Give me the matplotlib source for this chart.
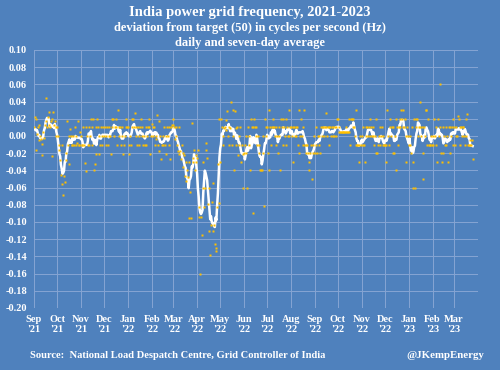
import matplotlib
matplotlib.use("Agg")
import matplotlib.pyplot as plt
import pandas as pd
import numpy as np

# ---------------- data (daily deviation from 50 Hz) ----------------
daily_sep21 = [0.010, 0.022, 0.020, -0.016, 0.002, 0.010, -0.005, 0.013, 0.000, -0.004,
               -0.009, -0.022, 0.005, -0.002, 0.013, 0.017, 0.044, 0.010, 0.022, 0.028,
               0.013, 0.010, 0.017, -0.023, 0.020, 0.028, 0.013, 0.017, 0.010, 0.000]
daily_oct21 = [0.010, 0.000, -0.016, -0.010, -0.028, -0.045, -0.056, -0.010, -0.069, -0.047,
               -0.053, -0.020, -0.028, 0.017, -0.010, 0.000, -0.033, 0.008, 0.000, -0.010,
               -0.010, 0.000, -0.010, 0.010, 0.000, -0.010, -0.008, 0.018, -0.010, -0.010, 0.005]
daily_nov21 = [0.000, -0.010, -0.010, 0.010, -0.010, -0.031, -0.041, 0.010, 0.000, -0.010,
               0.010, -0.010, 0.000, 0.020, 0.010, -0.010, 0.020, -0.040, -0.032, 0.010,
               -0.021, 0.020, 0.010, -0.021, 0.000, -0.010, 0.010, 0.000, -0.010, 0.010]
daily_dec21 = [0.000, 0.010, -0.010, 0.000, 0.010, -0.010, 0.000, 0.010, 0.000, -0.021,
               0.020, 0.010, 0.020, 0.000, 0.010, 0.020, 0.010, -0.010, 0.030, 0.010,
               0.000, 0.010, -0.010, 0.000, 0.010, -0.021, -0.010, 0.000, 0.010, 0.020, 0.010]
daily_jan22 = [0.010, -0.010, -0.021, 0.000, -0.010, 0.020, 0.010, 0.020, 0.010, 0.027,
               0.010, 0.000, -0.010, 0.010, 0.000, -0.010, 0.010, 0.020, 0.010, 0.000,
               -0.010, 0.000, -0.010, -0.010, 0.010, 0.000, 0.010, 0.020, 0.010, -0.021, 0.000]
daily_feb22 = [0.014, 0.010, 0.000, 0.010, -0.010, 0.000, -0.003, 0.024, -0.010, 0.017,
               -0.018, 0.000, -0.027, -0.010, 0.000, -0.010, 0.010, -0.010, 0.000, -0.021,
               0.010, 0.000, 0.010, -0.010, -0.027, 0.010, 0.013, 0.020]
daily_mar22 = [0.013, 0.010, -0.003, 0.000, 0.010, -0.010, -0.018, 0.010, -0.021, -0.018,
               -0.027, -0.010, -0.036, -0.020, -0.022, -0.047, -0.030, -0.052, -0.040, -0.048,
               -0.095, -0.030, -0.065, -0.095, 0.015, -0.030, -0.026, -0.016, -0.040, -0.030, -0.022]
daily_apr22 = [-0.026, -0.016, -0.094, -0.082, -0.160, -0.094, -0.115, -0.060, -0.030, -0.082,
               -0.060, -0.016, -0.008, -0.026, -0.079, -0.060, -0.111, -0.138, -0.103, -0.077,
               -0.110, -0.055, -0.103, -0.126, -0.134, -0.130, -0.083, -0.032, -0.078, 0.020]
daily_may22 = [-0.030, 0.020, 0.010, -0.011, 0.000, 0.009, 0.010, 0.007, 0.019, 0.029,
               0.000, -0.010, 0.010, 0.009, 0.040, -0.010, 0.000, 0.030, -0.040, 0.029,
               0.009, -0.010, 0.010, -0.022, 0.000, -0.011, 0.010, -0.030, -0.010, -0.021, -0.060]
daily_jun22 = [-0.020, -0.010, 0.000, -0.020, -0.060, 0.010, -0.010, 0.000, -0.040, 0.020,
               0.010, 0.010, -0.090, 0.020, 0.010, 0.010, 0.000, -0.010, 0.000, -0.020,
               -0.010, -0.040, -0.040, -0.040, -0.020, 0.000, -0.081, 0.020, 0.010, 0.000]
daily_jul22 = [0.010, -0.020, 0.030, -0.040, 0.010, -0.010, 0.010, 0.010, 0.020, 0.010,
               0.000, -0.010, 0.010, 0.000, -0.020, 0.010, 0.000, -0.040, 0.020, 0.010,
               0.020, -0.010, 0.010, 0.000, 0.020, -0.010, 0.010, 0.000, 0.000, 0.030, 0.010]
daily_aug22 = [0.010, 0.000, -0.030, 0.010, 0.010, 0.000, 0.010, 0.000, 0.010, -0.010,
               0.030, -0.020, 0.000, 0.020, 0.000, 0.010, -0.010, 0.030, -0.010, -0.020,
               -0.010, -0.010, -0.020, -0.030, -0.040, -0.020, -0.010, -0.050, -0.010, -0.020, 0.000]
daily_sep22 = [-0.020, -0.010, 0.010, -0.020, 0.000, -0.010, 0.000, -0.020, 0.010, 0.000,
               0.010, 0.010, 0.000, 0.010, 0.010, 0.027, 0.000, 0.010, -0.010, 0.010,
               0.010, 0.000, 0.010, 0.000, 0.010, 0.000, 0.010, 0.000, 0.010, 0.020]
daily_oct22 = [0.020, 0.010, 0.005, 0.005, 0.005, 0.005, 0.005, 0.005, 0.005, 0.005,
               0.005, 0.010, 0.005, 0.005, 0.020, 0.005, -0.010, 0.020, 0.020, 0.010,
               0.020, 0.010, 0.000, 0.030, -0.010, -0.010, -0.010, -0.030, -0.010, 0.000, -0.010]
daily_nov22 = [0.000, -0.010, 0.010, -0.010, -0.030, 0.010, 0.000, 0.010, 0.000, 0.010,
               0.020, 0.000, 0.010, 0.000, 0.010, 0.000, -0.010, 0.000, 0.020, -0.020,
               -0.020, -0.010, 0.000, 0.010, -0.010, 0.000, 0.010, -0.010, 0.000, -0.010]
daily_dec22 = [-0.010, -0.030, -0.010, 0.030, 0.000, -0.010, 0.010, 0.020, 0.000, 0.010,
               -0.020, 0.010, -0.020, 0.000, 0.020, -0.040, 0.010, -0.010, 0.010, 0.020,
               0.010, 0.030, 0.020, 0.010, 0.030, 0.010, 0.020, 0.000, -0.030, 0.010, 0.000]
daily_jan23 = [-0.010, -0.010, 0.000, -0.020, 0.010, -0.060, -0.030, 0.020, -0.060, 0.010,
               0.020, 0.020, 0.000, 0.010, 0.040, 0.010, 0.000, 0.010, -0.050, -0.020,
               0.010, 0.000, 0.030, 0.030, -0.010, 0.020, -0.010, -0.010, -0.010, 0.000, -0.010]
daily_feb23 = [0.000, -0.010, 0.020, 0.000, -0.010, 0.010, -0.030, 0.020, 0.000, 0.010,
               0.060, -0.020, -0.030, -0.020, 0.010, 0.000, -0.010, 0.010, -0.010, 0.000,
               -0.030, 0.010, -0.020, 0.010, 0.000, 0.010, -0.010, 0.020]
daily_mar23 = [0.010, -0.010, 0.000, 0.010, 0.000, 0.023, 0.020, 0.010, -0.010, 0.010,
               0.000, 0.010, 0.010, 0.000, -0.010, 0.020, 0.000, 0.026, -0.010, -0.010,
               -0.010, -0.005, -0.010, -0.005, -0.027]

start_date = "2021-09-01"
month_ticks = ["2021-09-01", "2021-10-01", "2021-11-01", "2021-12-01", "2022-01-01",
               "2022-02-01", "2022-03-01", "2022-04-01", "2022-05-01", "2022-06-01",
               "2022-07-01", "2022-08-01", "2022-09-01", "2022-10-01", "2022-11-01",
               "2022-12-01", "2023-01-01", "2023-02-01", "2023-03-01", "2023-04-01"]
month_labels = ["Sep\n'21", "Oct\n'21", "Nov\n'21", "Dec\n'21", "Jan\n'22", "Feb\n'22",
                "Mar\n'22", "Apr\n'22", "May\n'22", "Jun\n'22", "Jul\n'22", "Aug\n'22",
                "Sep\n'22", "Oct\n'22", "Nov\n'22", "Dec\n'22", "Jan\n'23", "Feb\n'23",
                "Mar\n'23", ""]
y_ticks = [0.10, 0.08, 0.06, 0.04, 0.02, 0.00, -0.02, -0.04, -0.06, -0.08, -0.10,
           -0.12, -0.14, -0.16, -0.18, -0.20]
y_labels = ["0.10", "0.08", "0.06", "0.04", "0.02", "0.00", "-0.02", "-0.04", "-0.06",
            "-0.08", "-0.10", "-0.12", "-0.14", "-0.16", "-0.18", "-0.20"]

daily = (daily_sep21 + daily_oct21 + daily_nov21 + daily_dec21 + daily_jan22 + daily_feb22
         + daily_mar22 + daily_apr22 + daily_may22 + daily_jun22 + daily_jul22 + daily_aug22
         + daily_sep22 + daily_oct22 + daily_nov22 + daily_dec22 + daily_jan23 + daily_feb23
         + daily_mar23)

dates = pd.date_range(start_date, periods=len(daily), freq="D")
s = pd.Series(daily, index=dates)
avg7 = s.rolling(7, center=True, min_periods=4).mean()

# ---------------- styling ----------------
BG = "#4F81BD"
GRID = "#86A5D3"
DOT = "#FFC000"
FONT = "Liberation Serif"

fig = plt.figure(figsize=(5.0, 3.7), dpi=100, facecolor=BG)
ax = fig.add_axes([0.068, 0.1676, 0.888, 0.6973], facecolor=BG)

ax.plot(avg7.index, avg7.values, color="white", lw=1.8, zorder=3, solid_joinstyle="round")
ax.plot(s.index, s.values, ls="none", marker="s", ms=2.1, mfc=DOT, mec="none", zorder=4)

ax.set_ylim(-0.20, 0.10)
ax.set_xlim(pd.Timestamp(month_ticks[0]), pd.Timestamp(month_ticks[-1]))
ax.set_yticks(y_ticks)
ax.set_yticklabels(y_labels)
ax.set_xticks([pd.Timestamp(t) for t in month_ticks])
ax.set_xticklabels(month_labels, linespacing=1.1)

for sp in ax.spines.values():
    sp.set_visible(False)
ax.grid(True, color=GRID, lw=0.7, zorder=0)
ax.set_axisbelow(True)
ax.tick_params(length=0, pad=5)
for lab in ax.get_xticklabels() + ax.get_yticklabels():
    lab.set_fontfamily(FONT)
    lab.set_fontweight("bold")
    lab.set_fontsize(7.5)
    lab.set_color("white")

fig.text(0.5, 0.965, "India power grid frequency, 2021-2023", ha="center", va="center",
         family=FONT, weight="bold", size=10.5, color="white")
fig.text(0.5, 0.924, "deviation from target (50) in cycles per second (Hz)", ha="center",
         va="center", family=FONT, weight="bold", size=9, color="white")
fig.text(0.5, 0.884, "daily and seven-day average", ha="center", va="center",
         family=FONT, weight="bold", size=9, color="white")
fig.text(0.06, 0.038, "Source:  National Load Despatch Centre, Grid Controller of India",
         ha="left", va="center", family=FONT, weight="bold", size=7.6, color="white")
fig.text(0.968, 0.038, "@JKempEnergy", ha="right", va="center",
         family=FONT, weight="bold", size=7.8, color="white")

fig.savefig("out.png", dpi=100, facecolor=BG)
